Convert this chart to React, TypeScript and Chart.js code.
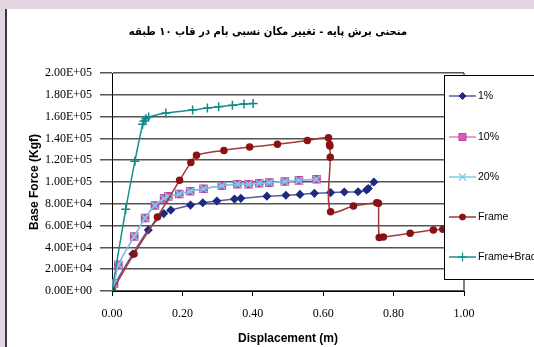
import React, { useEffect, useRef } from 'react';
import { Chart, registerables } from 'chart.js';

Chart.register(...registerables);

const TITLE = 'منحنی برش پایه - تغییر مکان نسبی بام در قاب ۱۰ طبقه';
const X_TITLE = 'Displacement (m)';
const Y_TITLE = 'Base Force (Kgf)';
const X_TICKS = ['0.00', '0.20', '0.40', '0.60', '0.80', '1.00'];
const Y_TICKS = [
  '0.00E+00', '2.00E+04', '4.00E+04', '6.00E+04', '8.00E+04', '1.00E+05',
  '1.20E+05', '1.40E+05', '1.60E+05', '1.80E+05', '2.00E+05',
];
const SERIES_NAMES = ['1%', '10%', '20%', 'Frame', 'Frame+Brace'];

// 1%
const X_1 = [0, 0.005, 0.059, 0.103, 0.147, 0.167, 0.223, 0.258, 0.298, 0.348, 0.366, 0.44, 0.494, 0.534, 0.575, 0.621, 0.66, 0.699, 0.723, 0.728, 0.744];
const F_1 = [0, 4700, 34000, 56000, 71000, 74200, 78800, 81000, 82600, 84300, 85000, 87000, 87800, 88600, 89600, 90300, 90800, 91000, 92700, 94000, 100000];

// 10%
const X_10 = [0, 0.006, 0.018, 0.063, 0.094, 0.122, 0.148, 0.16, 0.191, 0.222, 0.26, 0.312, 0.356, 0.388, 0.418, 0.447, 0.491, 0.531, 0.581];
const F_10 = [0, 7000, 24000, 50000, 67000, 78500, 85000, 86800, 89000, 91500, 93800, 96600, 97900, 97900, 98800, 99400, 100400, 101500, 102500];

// 20%
const X_20 = [0, 0.006, 0.018, 0.063, 0.094, 0.122, 0.148, 0.16, 0.191, 0.222, 0.26, 0.312, 0.356, 0.388, 0.418, 0.447, 0.491, 0.531, 0.581];
const F_20 = [0, 7000, 24000, 50000, 67000, 78500, 85000, 86800, 89000, 91500, 93800, 96600, 97900, 97900, 98800, 99400, 100400, 101500, 102500];

// Frame
const X_FR = [0, 0.0625, 0.129, 0.192, 0.224, 0.24, 0.318, 0.391, 0.47, 0.555, 0.615, 0.618, 0.619, 0.62, 0.621, 0.686, 0.752, 0.757, 0.759, 0.771, 0.847, 0.913, 0.94];
const F_FR = [0, 34000, 68000, 101500, 118000, 124500, 129000, 132000, 134600, 138000, 140600, 134500, 133000, 122700, 72800, 78000, 81000, 80600, 49000, 49500, 53000, 56000, 56600];

// Frame+Brace
const X_FB = [0, 0.039, 0.065, 0.087, 0.091, 0.096, 0.104, 0.153, 0.229, 0.271, 0.303, 0.342, 0.375, 0.401];
const F_FB = [0, 75000, 119000, 153000, 156000, 158000, 159600, 163300, 166000, 168000, 169000, 170300, 171500, 172000];

const pts = (xs: number[], ys: number[]) => xs.map((x, i) => ({ x, y: ys[i] }));

function drawMarker(ctx: CanvasRenderingContext2D, style: string, x: number, y: number, r: number, fill: string, stroke: string) {
  ctx.save();
  ctx.beginPath();
  ctx.fillStyle = fill;
  ctx.strokeStyle = stroke;
  ctx.lineWidth = 1;
  if (style === 'circle') {
    ctx.arc(x, y, r, 0, Math.PI * 2);
    ctx.fill();
    ctx.stroke();
  } else if (style === 'rect') {
    const s = r * Math.SQRT1_2;
    ctx.rect(x - s, y - s, 2 * s, 2 * s);
    ctx.fill();
    ctx.stroke();
  } else if (style === 'rectRot') {
    ctx.moveTo(x, y - r);
    ctx.lineTo(x + r, y);
    ctx.lineTo(x, y + r);
    ctx.lineTo(x - r, y);
    ctx.closePath();
    ctx.fill();
    ctx.stroke();
  } else if (style === 'cross') {
    ctx.lineWidth = 1.2;
    ctx.moveTo(x - r, y);
    ctx.lineTo(x + r, y);
    ctx.moveTo(x, y - r);
    ctx.lineTo(x, y + r);
    ctx.stroke();
  } else if (style === 'crossRot') {
    const s = r * Math.SQRT1_2;
    ctx.lineWidth = 1.2;
    ctx.moveTo(x - s, y - s);
    ctx.lineTo(x + s, y + s);
    ctx.moveTo(x + s, y - s);
    ctx.lineTo(x - s, y + s);
    ctx.stroke();
  }
  ctx.restore();
}

const framePlugin = {
  id: 'framePlugin',
  beforeDraw(chart: any) {
    const ctx = chart.ctx as CanvasRenderingContext2D;
    const W = chart.width;
    const H = chart.height;
    ctx.save();
    ctx.fillStyle = '#e5d5e0';
    ctx.fillRect(0, 0, W, H);
    ctx.fillStyle = '#ffffff';
    ctx.fillRect(7, 9, W - 7, H - 9);
    ctx.fillStyle = '#3a3a3a';
    ctx.fillRect(5, 9, 2, H - 9);
    ctx.restore();
  },
  afterDraw(chart: any) {
    const ctx = chart.ctx as CanvasRenderingContext2D;
    const area = chart.chartArea;
    ctx.save();
    // right border of plot area
    ctx.strokeStyle = '#555';
    ctx.lineWidth = 1.5;
    ctx.beginPath();
    ctx.moveTo(area.right, area.top);
    ctx.lineTo(area.right, area.bottom);
    ctx.stroke();

    // title
    ctx.fillStyle = '#000';
    ctx.font = 'bold 11.2px "DejaVu Sans Condensed", "DejaVu Sans", sans-serif';
    ctx.textAlign = 'center';
    ctx.textBaseline = 'middle';
    ctx.fillText(TITLE, 268, 32);

    // legend
    const lx = 444.5, ly = 75.5, lw = 100, lh = 204;
    ctx.fillStyle = '#fff';
    ctx.fillRect(lx, ly, lw, lh);
    ctx.strokeStyle = '#000';
    ctx.lineWidth = 1;
    ctx.strokeRect(lx, ly, lw, lh);
    const ds = chart.data.datasets;
    const ys = [96, 137, 177, 217, 257];
    ds.forEach((d: any, i: number) => {
      const y = ys[i];
      ctx.strokeStyle = d.borderColor;
      ctx.lineWidth = d.borderWidth;
      ctx.beginPath();
      ctx.moveTo(449, y);
      ctx.lineTo(476, y);
      ctx.stroke();
      drawMarker(ctx, d.pointStyle, 462.5, y, d.pointRadius, d.pointBackgroundColor, d.pointBorderColor);
      ctx.fillStyle = '#000';
      ctx.font = '10.5px "Liberation Sans", Arial, sans-serif';
      ctx.textAlign = 'left';
      ctx.textBaseline = 'middle';
      ctx.fillText(d.label, 478, y + 0.5);
    });
    ctx.restore();
  },
};

export default function App() {
  const ref = useRef<HTMLCanvasElement | null>(null);
  useEffect(() => {
    document.body.style.margin = '0';
    const canvas = ref.current;
    if (!canvas) return;
    const tickFont = { family: '"Liberation Serif", "Times New Roman", serif', size: 12 };
    const chart = new Chart(canvas, {
      type: 'scatter',
      data: {
        datasets: [
          {
            label: SERIES_NAMES[0], data: pts(X_1, F_1), showLine: true, tension: 0.3,
            borderColor: '#5a5aa0', borderWidth: 1.5, pointStyle: 'rectRot', pointRadius: 3.5,
            pointBackgroundColor: '#1e2a80', pointBorderColor: '#1e2a80', order: 5,
          },
          {
            label: SERIES_NAMES[1], data: pts(X_10, F_10), showLine: true, tension: 0.3,
            borderColor: '#e07cc4', borderWidth: 1.5, pointStyle: 'rect', pointRadius: 5,
            pointBackgroundColor: '#d35fb5', pointBorderColor: '#c0409e', order: 4,
          },
          {
            label: SERIES_NAMES[2], data: pts(X_20, F_20), showLine: true, tension: 0.3,
            borderColor: '#7ccbe6', borderWidth: 1.5, pointStyle: 'crossRot', pointRadius: 5,
            pointBackgroundColor: '#6fd0ee', pointBorderColor: '#6fd0ee', order: 3,
          },
          {
            label: SERIES_NAMES[3], data: pts(X_FR, F_FR), showLine: true, tension: 0.3,
            borderColor: '#a03a3a', borderWidth: 1.5, pointStyle: 'circle', pointRadius: 3,
            pointBackgroundColor: '#8b1212', pointBorderColor: '#8b1212', order: 2,
          },
          {
            label: SERIES_NAMES[4], data: pts(X_FB, F_FB), showLine: true, tension: 0.3,
            borderColor: '#17908e', borderWidth: 1.5, pointStyle: 'cross', pointRadius: 4.5,
            pointBackgroundColor: '#0f8786', pointBorderColor: '#0f8786', order: 1,
          },
        ] as any,
      },
      options: {
        responsive: false,
        animation: false,
        devicePixelRatio: 1,
        layout: { padding: { left: 8, right: 70, top: 73, bottom: 0 } },
        plugins: { legend: { display: false }, title: { display: false }, tooltip: { enabled: false } },
        scales: {
          x: {
            type: 'linear', min: 0, max: 1,
            afterFit: (s: any) => { s.height = 56; },
            ticks: {
              stepSize: 0.2, autoSkip: false, maxRotation: 0, color: '#000', font: tickFont, padding: 11,
              callback: (_v: any, i: number) => X_TICKS[i],
            },
            grid: { drawOnChartArea: false, drawTicks: true, tickLength: 5, color: '#000' },
            border: { color: '#000', width: 1 },
            title: {
              display: true, text: X_TITLE, color: '#000',
              font: { family: '"Liberation Sans", Arial, sans-serif', size: 12, weight: 'bold' },
              padding: { top: 0, bottom: 1 },
            },
          },
          y: {
            type: 'linear', min: 0, max: 200000,
            afterFit: (s: any) => { s.width = 104; },
            ticks: {
              stepSize: 20000, autoSkip: false, color: '#000', font: tickFont, padding: 8,
              callback: (_v: any, i: number) => Y_TICKS[i],
            },
            grid: { drawTicks: true, tickLength: 12, color: '#555', lineWidth: 1.5 },
            border: { color: '#000', width: 1 },
            title: {
              display: true, text: Y_TITLE, color: '#000',
              font: { family: '"Liberation Sans", Arial, sans-serif', size: 12, weight: 'bold' },
              padding: { top: 19, bottom: 0 },
            },
          },
        },
      } as any,
      plugins: [framePlugin],
    });
    return () => chart.destroy();
  }, []);
  return <canvas ref={ref} width={534} height={347} style={{ display: 'block', width: 534, height: 347 }} />;
}
